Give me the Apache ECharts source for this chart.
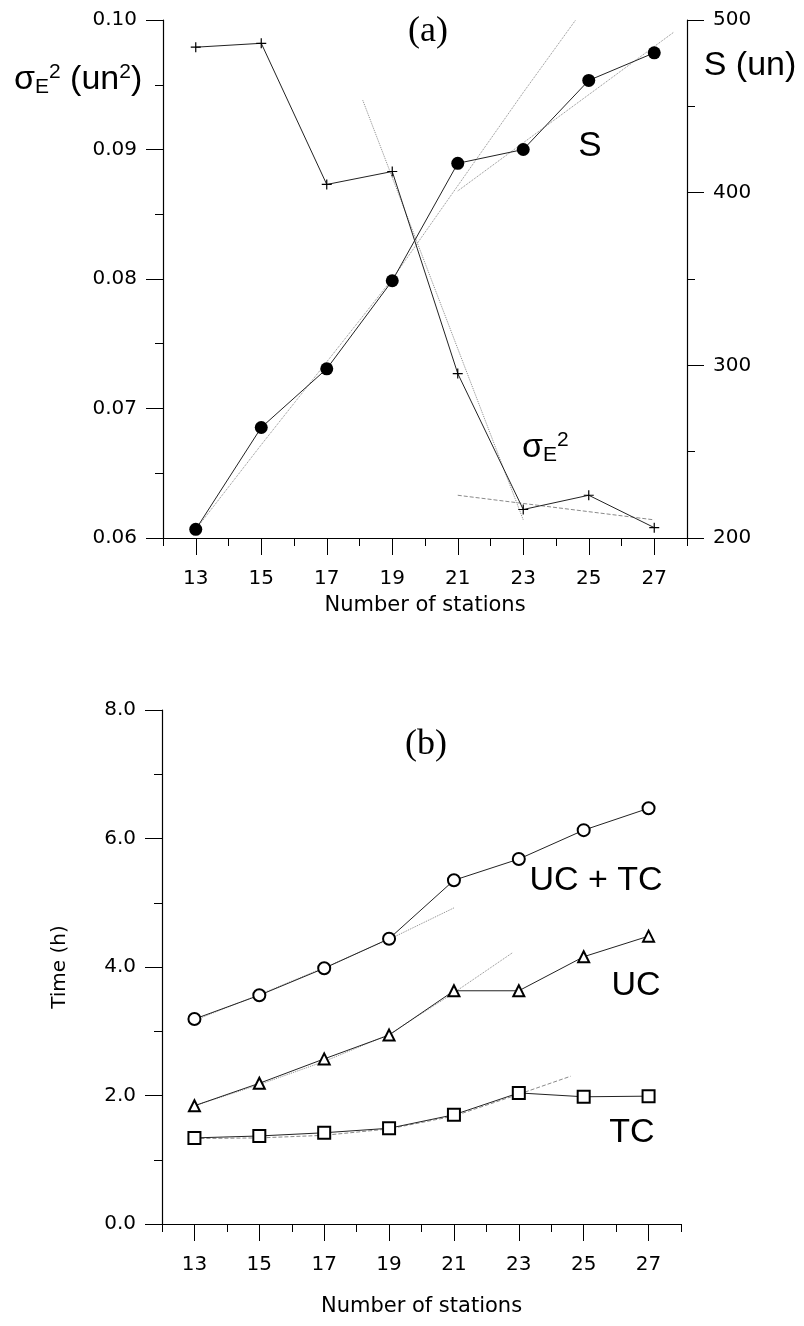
<!DOCTYPE html>
<html>
<head>
<meta charset="utf-8">
<script src="https://cdn.jsdelivr.net/npm/echarts@6/dist/echarts.min.js"></script>
<style>
html,body{margin:0;padding:0;background:#fff;}
#c{width:804px;height:1326px;}
</style>
</head>
<body>
<div id="c"></div>
<script>
// ---- data ----
const stations = [13, 15, 17, 19, 21, 23, 25, 27];
const oddTicks = [13, 15, 17, 19, 21, 23, 25, 27];
const sigmaE2 = [0.0979, 0.0982, 0.0873, 0.0883, 0.0727, 0.0622, 0.0633, 0.0608];
const sValues = [205, 264, 298, 349, 417, 425, 465, 481];
const ucTc = [3.19, 3.56, 3.98, 4.44, 5.35, 5.68, 6.13, 6.47];
const uc = [1.84, 2.19, 2.57, 2.94, 3.63, 3.63, 4.16, 4.48];
const tc = [1.34, 1.37, 1.42, 1.49, 1.70, 2.04, 1.98, 1.99];

// trend (fitted) lines
const sFitEarlyX = [13, 15, 17, 19, 21, 23, 24.6];
const sFitEarly = [205, 254, 302, 350, 404, 458, 500];
const sFitLateX = [21, 27.6];
const sFitLate = [401, 493];
const sigFitSteepX = [18.1, 23];
const sigFitSteep = [0.0938, 0.0614];
const sigFitLateX = [21, 27];
const sigFitLate = [0.0633, 0.0614];
const ucTcFitX = [13, 15, 17, 19, 21];
const ucTcFit = [3.17, 3.57, 3.99, 4.43, 4.92];
const ucFitX = [13, 15, 17, 19, 21, 22.8];
const ucFit = [1.84, 2.17, 2.53, 2.95, 3.60, 4.22];
const tcFitX = [13, 15, 17, 19, 21, 23, 24.6];
const tcFit = [1.33, 1.34, 1.38, 1.48, 1.68, 2.02, 2.30];

const zip = (xs, ys) => xs.map((x, i) => [x, ys[i]]);

const FONT = 'DejaVu Sans';
const BIG = 'Liberation Sans';
const black = '#000';
const fitColor = '#8a8a8a';

function baseX(grid) {
  return {
    type: 'value', gridIndex: grid, min: 12, max: 28, interval: 1,
    axisLine: { show: true, onZero: false, lineStyle: { color: black, width: 1.2 } },
    axisTick: { show: true, length: 8, lineStyle: { color: black } },
    axisLabel: { show: false },
    splitLine: { show: false }
  };
}
function labelX(grid, nameGap) {
  return {
    type: 'value', gridIndex: grid, min: 12, max: 28, interval: 2,
    position: 'bottom',
    axisLine: { show: false },
    axisTick: { show: true, length: 17, customValues: oddTicks, lineStyle: { color: black } },
    axisLabel: { show: true, customValues: oddTicks, margin: 31, fontFamily: FONT, fontSize: 20, color: black },
    splitLine: { show: false },
    name: 'Number of stations', nameLocation: 'middle', nameGap: nameGap,
    nameTextStyle: { fontFamily: FONT, fontSize: 21, color: black }
  };
}
function yAx(grid, pos, min, max, interval, fmt) {
  return {
    type: 'value', gridIndex: grid, position: pos, min: min, max: max, interval: interval,
    axisLine: { show: true, onZero: false, lineStyle: { color: black, width: 1.2 } },
    axisTick: { show: true, length: 17, lineStyle: { color: black } },
    minorTick: { show: true, splitNumber: 2, length: 8, lineStyle: { color: black } },
    axisLabel: { show: true, margin: 26, fontFamily: FONT, fontSize: 20, color: black, formatter: fmt },
    splitLine: { show: false }, minorSplitLine: { show: false }
  };
}

const plus = 'path://M0,5L10,5M5,0L5,10';

function dataSeries(xi, yi, data, symbol, size, opts) {
  return Object.assign({
    type: 'line', xAxisIndex: xi, yAxisIndex: yi, data: data,
    symbol: symbol, symbolSize: size, showSymbol: true,
    lineStyle: { color: '#222', width: 1 },
    itemStyle: { color: black, borderColor: black, borderWidth: 1.5 },
    emphasis: { disabled: true }, z: 5
  }, opts || {});
}
function fitSeries(xi, yi, data, type) {
  return {
    type: 'line', xAxisIndex: xi, yAxisIndex: yi, data: data,
    symbol: 'none', lineStyle: { color: fitColor, width: 1, type: type },
    emphasis: { disabled: true }, z: 3
  };
}

const richSigma = {
  a: { fontFamily: BIG, fontSize: 34, fill: black },
  s: { fontFamily: BIG, fontSize: 21, fill: black, verticalAlign: 'bottom', padding: [15, 0, 0, 0] },
  p: { fontFamily: BIG, fontSize: 21, fill: black, verticalAlign: 'top', padding: [0, 0, 13, 0] }
};

const chart = echarts.init(document.getElementById('c'), null, { renderer: 'canvas' });
chart.setOption({
  animation: false,
  backgroundColor: '#fff',
  grid: [
    { left: 163, top: 20, width: 524, height: 518 },
    { left: 162, top: 710, width: 519, height: 514 }
  ],
  xAxis: [baseX(0), labelX(0, 57), baseX(1), labelX(1, 72)],
  yAxis: [
    yAx(0, 'left', 0.06, 0.10, 0.01, v => v.toFixed(2)),
    yAx(0, 'right', 200, 500, 100, v => String(Math.round(v))),
    Object.assign(yAx(1, 'left', 0, 8, 2, v => v.toFixed(1)), {
      name: 'Time (h)', nameLocation: 'middle', nameGap: 92, nameRotate: 90,
      nameTextStyle: { fontFamily: FONT, fontSize: 20, color: black }
    })
  ],
  series: [
    fitSeries(0, 1, zip(sFitEarlyX, sFitEarly), 'dotted'),
    fitSeries(0, 1, zip(sFitLateX, sFitLate), 'dotted'),
    fitSeries(0, 0, zip(sigFitSteepX, sigFitSteep), 'dotted'),
    fitSeries(0, 0, zip(sigFitLateX, sigFitLate), 'dashed'),
    dataSeries(0, 0, zip(stations, sigmaE2), plus, 10, { itemStyle: { color: black, borderColor: black, borderWidth: 1.2 } }),
    dataSeries(0, 1, zip(stations, sValues), 'circle', 13, { itemStyle: { color: black, borderWidth: 0 } }),
    fitSeries(2, 2, zip(ucTcFitX, ucTcFit), 'dotted'),
    fitSeries(2, 2, zip(ucFitX, ucFit), 'dotted'),
    fitSeries(2, 2, zip(tcFitX, tcFit), 'dashed'),
    dataSeries(2, 2, zip(stations, ucTc), 'emptyCircle', 12),
    dataSeries(2, 2, zip(stations, uc), 'emptyTriangle', 11),
    dataSeries(2, 2, zip(stations, tc), 'emptyRect', 12)
  ],
  graphic: [
    { type: 'text', x: 428, y: 32, style: { text: '(a)', fontFamily: 'Liberation Serif', fontSize: 36, fill: black, align: 'center', verticalAlign: 'middle' } },
    { type: 'text', x: 426, y: 745, style: { text: '(b)', fontFamily: 'Liberation Serif', fontSize: 36, fill: black, align: 'center', verticalAlign: 'middle' } },
    { type: 'text', x: 14, y: 80, style: {
        text: '{a|σ}{s|E}{p|2}{a| (un}{p|2}{a|)}',
        verticalAlign: 'middle', rich: richSigma } },
    { type: 'text', x: 750, y: 66, style: { text: 'S (un)', fontFamily: BIG, fontSize: 34, fill: black, align: 'center', verticalAlign: 'middle' } },
    { type: 'text', x: 590, y: 146, style: { text: 'S', fontFamily: BIG, fontSize: 35, fill: black, align: 'center', verticalAlign: 'middle' } },
    { type: 'text', x: 522, y: 448, style: {
        text: '{a|σ}{s|E}{p|2}',
        verticalAlign: 'middle', rich: richSigma } },
    { type: 'text', x: 596, y: 881, style: { text: 'UC + TC', fontFamily: BIG, fontSize: 34, fill: black, align: 'center', verticalAlign: 'middle' } },
    { type: 'text', x: 636, y: 986, style: { text: 'UC', fontFamily: BIG, fontSize: 34, fill: black, align: 'center', verticalAlign: 'middle' } },
    { type: 'text', x: 632, y: 1133, style: { text: 'TC', fontFamily: BIG, fontSize: 34, fill: black, align: 'center', verticalAlign: 'middle' } }
  ]
});
</script>
</body>
</html>
